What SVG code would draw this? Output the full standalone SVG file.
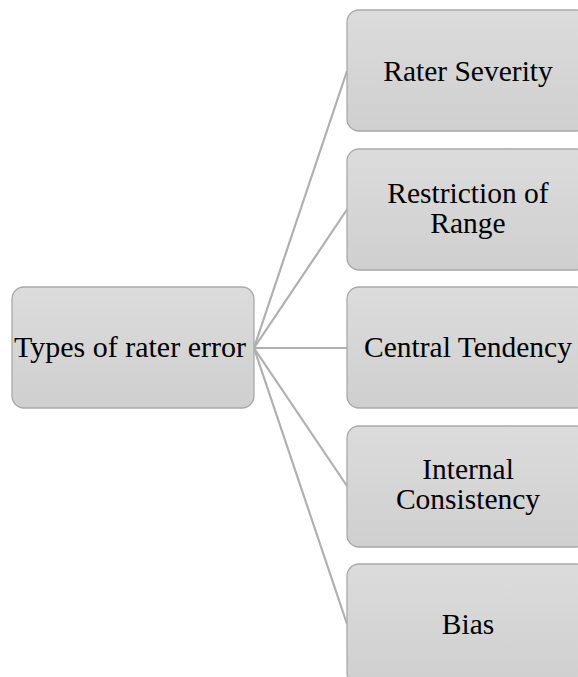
<svg xmlns="http://www.w3.org/2000/svg" width="578" height="677" viewBox="0 0 578 677">
<defs>
<linearGradient id="g" x1="0" y1="0" x2="0" y2="1">
<stop offset="0" stop-color="#dcdcdc"/>
<stop offset="1" stop-color="#cfcfcf"/>
</linearGradient>
<style>
.box{fill:url(#g);stroke:#a9a9a9;stroke-width:1.3}
.t{font-family:"Liberation Serif","Times New Roman",serif;font-size:29.5px;fill:#000;text-anchor:middle}
.r{font-size:30px}
.c{stroke:#b0b0b0;stroke-width:2.2;fill:none}
</style>
</defs>
<rect width="578" height="677" fill="#fff"/>
<g id="connectors">
<line class="c" x1="254" y1="348" x2="347" y2="71"/>
<line class="c" x1="254" y1="348" x2="347" y2="209.5"/>
<line class="c" x1="254" y1="348" x2="347" y2="348"/>
<line class="c" x1="254" y1="348" x2="347" y2="486"/>
<line class="c" x1="254" y1="348" x2="347" y2="624"/>
</g>
<g id="root">
<rect class="box" x="12" y="287" width="242" height="121" rx="12"/>
<text class="t r" x="130" y="357">Types of rater error</text>
</g>
<g id="n1">
<rect class="box" x="347" y="10" width="242" height="121" rx="12"/>
<text class="t" x="468" y="81">Rater Severity</text>
</g>
<g id="n2">
<rect class="box" x="347" y="149" width="242" height="121" rx="12"/>
<text class="t" x="468" y="203">Restriction of</text>
<text class="t" x="468" y="233">Range</text>
</g>
<g id="n3">
<rect class="box" x="347" y="287" width="242" height="121" rx="12"/>
<text class="t" x="468" y="357">Central Tendency</text>
</g>
<g id="n4">
<rect class="box" x="347" y="426" width="242" height="121" rx="12"/>
<text class="t" x="468" y="479">Internal</text>
<text class="t" x="468" y="509">Consistency</text>
</g>
<g id="n5">
<rect class="box" x="347" y="564" width="242" height="121" rx="12"/>
<text class="t" x="468" y="634">Bias</text>
</g>
</svg>
